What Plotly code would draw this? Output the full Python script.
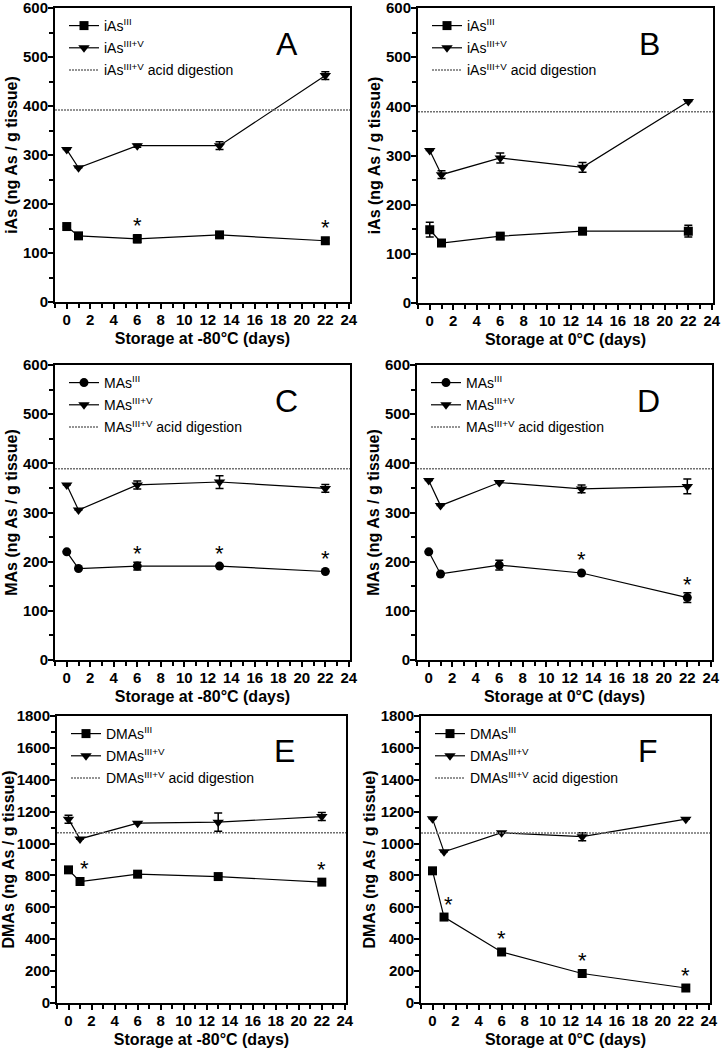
import plotly.graph_objects as go

W, H = 721, 1050
FONT = "Arial, 'Liberation Sans', sans-serif"

days = [0, 1, 6, 13, 22]

# panel A: iAs, -80C
a_iii = [154, 135, 129, 137, 125]
a_iii_err = [0, 0, 8, 5, 5]
a_v = [311, 274, 319, 319, 462]
a_v_err = [0, 0, 3, 8, 8]
a_acid = 392
a_stars = [6, 22]

# panel B: iAs, 0C
b_iii = [149, 122, 136, 146, 146]
b_iii_err = [15, 0, 5, 3, 12]
b_v = [310, 261, 295, 276, 410]
b_v_err = [0, 8, 10, 10, 0]
b_acid = 389
b_stars = []

# panel C: MAs, -80C
c_iii = [220, 186, 191, 191, 180]
c_iii_err = [0, 0, 8, 0, 0]
c_v = [356, 305, 356, 362, 349]
c_v_err = [0, 0, 8, 13, 8]
c_acid = 389
c_stars = [6, 13, 22]

# panel D: MAs, 0C
d_iii = [220, 175, 193, 177, 127]
d_iii_err = [0, 0, 10, 0, 10]
d_v = [365, 314, 361, 348, 353]
d_v_err = [0, 0, 0, 8, 15]
d_acid = 389
d_stars = [13, 22]

# panel E: DMAs, -80C
e_iii = [835, 762, 808, 793, 758]
e_iii_err = [0, 0, 0, 0, 0]
e_v = [1153, 1029, 1128, 1134, 1169]
e_v_err = [25, 0, 0, 57, 25]
e_acid = 1067
e_stars = [1, 22]

# panel F: DMAs, 0C
f_iii = [829, 539, 320, 185, 94]
f_iii_err = [0, 0, 0, 0, 0]
f_v = [1155, 948, 1068, 1043, 1153]
f_v_err = [0, 0, 0, 25, 0]
f_acid = 1066
f_stars = [1, 6, 13, 22]

xtitles = ["Storage at -80°C (days)", "Storage at 0°C (days)"]

# letter, species, marker, iii, iii_err, v, v_err, acid, stars, ymax, dtick, pixel box (x0, x1, ytop, ybottom)
panels = [
    ("A", "iAs", "square", a_iii, a_iii_err, a_v, a_v_err, a_acid, a_stars, 600, 100, (55, 350, 8, 302)),
    ("B", "iAs", "square", b_iii, b_iii_err, b_v, b_v_err, b_acid, b_stars, 600, 100, (418, 713, 8, 303)),
    ("C", "MAs", "circle", c_iii, c_iii_err, c_v, c_v_err, c_acid, c_stars, 600, 100, (55, 350, 365, 660)),
    ("D", "MAs", "circle", d_iii, d_iii_err, d_v, d_v_err, d_acid, d_stars, 600, 100, (417, 712, 365, 660)),
    ("E", "DMAs", "square", e_iii, e_iii_err, e_v, e_v_err, e_acid, e_stars, 1800, 200, (57, 346, 716, 1003)),
    ("F", "DMAs", "square", f_iii, f_iii_err, f_v, f_v_err, f_acid, f_stars, 1800, 200, (421, 710, 716, 1003)),
]

XMIN, XMAX = -1, 24.1

fig = go.Figure()
annotations = []

for i, (letter, sp, sym, iii, iii_err, v, v_err, acid, stars, ymax, dt, box) in enumerate(panels):
    n = i + 1
    xa = "x" if n == 1 else f"x{n}"
    ya = "y" if n == 1 else f"y{n}"
    lg = "legend" if n == 1 else f"legend{n}"
    x0, x1, yt, yb = box

    fig.add_scatter(
        x=days, y=iii, mode="lines+markers", xaxis=xa, yaxis=ya, legend=lg,
        name=f"{sp}<sup>III</sup>", legendgroup=f"{n}a",
        marker=dict(symbol=sym, size=9, color="black"),
        line=dict(color="black", width=1.2),
        error_y=dict(type="data", array=iii_err, color="black", thickness=1.5, width=4),
    )
    fig.add_scatter(
        x=days, y=v, mode="lines+markers", xaxis=xa, yaxis=ya, legend=lg,
        name=f"{sp}<sup>III+V</sup>", legendgroup=f"{n}b",
        marker=dict(symbol="triangle-down", size=10, color="black"),
        line=dict(color="black", width=1.2),
        error_y=dict(type="data", array=v_err, color="black", thickness=1.5, width=4),
    )
    fig.add_scatter(
        x=[XMIN, XMAX], y=[acid, acid], mode="lines", xaxis=xa, yaxis=ya, legend=lg,
        name=f"{sp}<sup>III+V</sup> acid digestion", legendgroup=f"{n}c",
        line=dict(color="#707070", width=1.5, dash="2px,1px"),
    )

    axis_common = dict(
        showline=True, linecolor="black", linewidth=2, mirror=True, automargin=False,
        showgrid=False, zeroline=False, ticks="outside", ticklen=5, tickwidth=2,
        tickcolor="black", ticklabeloverflow="allow",
        tickfont=dict(family=FONT, size=15, color="black", weight="bold"),
    )
    fig.layout[f"xaxis{'' if n == 1 else n}"] = dict(
        axis_common, domain=[x0 / W, x1 / W], anchor=ya, range=[XMIN, XMAX],
        tickmode="array", tickvals=list(range(0, 25, 2)), ticklabelstandoff=-2,
        minor=dict(tickmode="linear", tick0=0, dtick=1, ticks="outside", ticklen=4, tickwidth=2, tickcolor="black"),
        title=dict(text=xtitles[i % 2], standoff=6,
                   font=dict(family=FONT, size=16, color="black", weight="bold")),
    )
    fig.layout[f"yaxis{'' if n == 1 else n}"] = dict(
        axis_common, domain=[1 - yb / H, 1 - yt / H], anchor=xa, range=[0, ymax],
        dtick=dt, ticklabelstandoff=-3,
        minor=dict(tick0=0, dtick=dt / 2, ticks="outside", ticklen=4, tickwidth=2, tickcolor="black"),
        title=dict(text=f"{sp} (ng As / g tissue)", standoff=1,
                   font=dict(family=FONT, size=16, color="black", weight="bold")),
    )
    fig.layout[lg] = dict(
        x=(x0 + 9) / W, y=1 - (yt + 2) / H, xanchor="left", yanchor="top",
        bgcolor="rgba(0,0,0,0)", tracegroupgap=1,
        font=dict(family=FONT, size=14, color="black"),
    )

    annotations.append(dict(
        text=letter, xref=f"{xa} domain", yref=f"{ya} domain", x=0.786, y=0.878,
        xanchor="center", yanchor="middle",
        showarrow=False, font=dict(family=FONT, size=32, color="black"),
    ))
    for d in stars:
        k = days.index(d)
        annotations.append(dict(
            text="*", xref=xa, yref=ya, x=d, y=iii[k], yshift=13, xshift=4 if d == 1 else 0,
            showarrow=False, font=dict(family=FONT, size=22, color="black"),
        ))

fig.update_layout(
    width=W, height=H, margin=dict(l=0, r=0, t=0, b=0),
    paper_bgcolor="white", plot_bgcolor="white",
    annotations=annotations, font=dict(family=FONT, color="black"),
)

# page body has a default 8px margin; drop it so the figure fills the window
fig.write_html("out.html", config={"displayModeBar": False},
               post_script="document.body.style.margin = '0px';")
